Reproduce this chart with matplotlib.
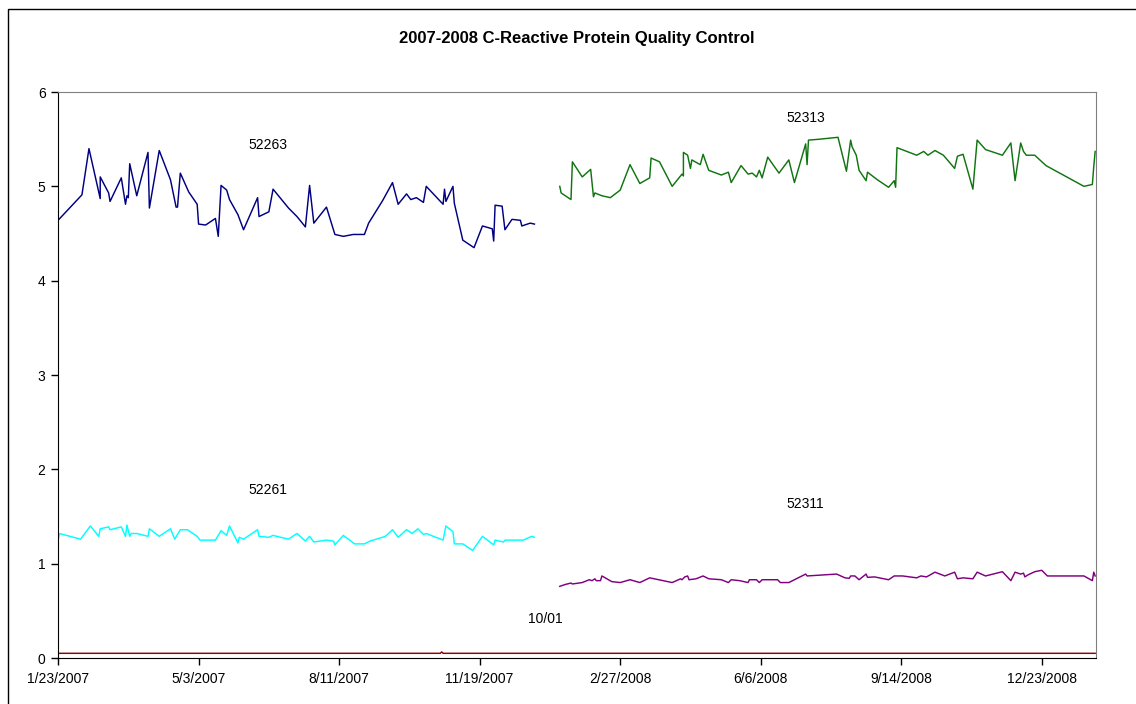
import pandas as pd
import numpy as np
import matplotlib
matplotlib.use('Agg')
import matplotlib.pyplot as plt
from matplotlib.patches import Rectangle

plt.rcParams['font.family'] = ['Liberation Sans', 'DejaVu Sans']

# ------------------- data (days after 1/23/2007, CRP value) -------------------
start = pd.Timestamp('2007-01-23')

days_52263 = [0, 17, 22, 30, 30, 36, 37, 45, 48, 49, 50, 51, 56, 64, 65, 72, 80, 84, 85, 87,
              93, 99, 100, 105, 112, 114, 116, 120, 122, 128, 132, 142, 143, 150, 153, 164, 170,
              176, 179, 182, 191, 197, 203, 210, 218, 221, 231, 238, 242, 248, 251, 255, 260,
              262, 274, 275, 276, 281, 282, 288, 296, 302, 309, 310, 311, 316, 318, 323, 329,
              330, 336, 339]
vals_52263 = [4.64, 4.91, 5.40, 4.87, 5.10, 4.93, 4.84, 5.09, 4.81, 4.90, 4.88, 5.24, 4.90, 5.36,
              4.77, 5.38, 5.07, 4.78, 4.78, 5.14, 4.94, 4.81, 4.60, 4.59, 4.66, 4.47, 5.01, 4.96,
              4.86, 4.70, 4.54, 4.88, 4.68, 4.73, 4.97, 4.77, 4.68, 4.57, 5.01, 4.61, 4.78, 4.49,
              4.47, 4.49, 4.49, 4.61, 4.85, 5.04, 4.81, 4.92, 4.86, 4.88, 4.83, 5.00, 4.81, 4.97,
              4.84, 5.00, 4.82, 4.43, 4.35, 4.58, 4.55, 4.42, 4.80, 4.79, 4.54, 4.65, 4.64, 4.58,
              4.61, 4.60]

days_52261 = [0, 1, 16, 23, 29, 30, 36, 37, 45, 48, 49, 51, 52, 56, 64, 65, 72, 80, 83, 87, 92,
              99, 101, 112, 116, 120, 122, 128, 129, 132, 142, 143, 150, 153, 164, 170, 176, 179,
              182, 191, 196, 197, 203, 211, 218, 222, 233, 238, 242, 248, 252, 256, 260, 262,
              274, 276, 281, 282, 288, 295, 302, 310, 311, 317, 318, 331, 337, 339]
vals_52261 = [1.24, 1.32, 1.26, 1.40, 1.29, 1.37, 1.39, 1.36, 1.39, 1.29, 1.41, 1.29, 1.32, 1.32,
              1.29, 1.37, 1.29, 1.37, 1.26, 1.36, 1.36, 1.29, 1.25, 1.25, 1.35, 1.30, 1.40, 1.22,
              1.28, 1.26, 1.36, 1.29, 1.28, 1.30, 1.26, 1.32, 1.24, 1.29, 1.23, 1.25, 1.24, 1.20,
              1.30, 1.21, 1.21, 1.24, 1.29, 1.36, 1.28, 1.36, 1.32, 1.37, 1.31, 1.32, 1.25, 1.40,
              1.34, 1.21, 1.21, 1.14, 1.29, 1.20, 1.25, 1.23, 1.25, 1.25, 1.29, 1.28]

days_52313 = [357, 358, 365, 366, 373, 379, 381, 382, 387, 393, 400, 407, 414, 421, 422, 428, 437,
              444, 445, 445, 448, 450, 451, 457, 459, 463, 472, 477, 479, 486, 491, 494, 497, 499,
              501, 505, 513, 520, 524, 532, 533, 534, 542, 555, 561, 564, 565, 568, 570, 575, 576,
              583, 591, 595, 596, 597, 611, 616, 619, 624, 630, 638, 640, 644, 651, 654, 660, 672,
              678, 681, 685, 687, 689, 695, 703, 730, 736, 737, 738]
vals_52313 = [5.00, 4.93, 4.86, 5.26, 5.10, 5.18, 4.89, 4.93, 4.90, 4.88, 4.96, 5.23, 5.03, 5.09,
              5.30, 5.26, 5.00, 5.13, 5.11, 5.36, 5.33, 5.19, 5.28, 5.23, 5.34, 5.17, 5.12, 5.15,
              5.04, 5.22, 5.13, 5.14, 5.10, 5.17, 5.09, 5.31, 5.14, 5.28, 5.04, 5.45, 5.23, 5.49,
              5.50, 5.52, 5.16, 5.49, 5.42, 5.33, 5.17, 5.06, 5.15, 5.07, 4.99, 5.06, 4.99, 5.41,
              5.33, 5.37, 5.33, 5.38, 5.33, 5.19, 5.32, 5.34, 4.97, 5.49, 5.39, 5.33, 5.46, 5.06,
              5.46, 5.37, 5.33, 5.33, 5.22, 5.00, 5.02, 5.21, 5.37]

days_52311 = [357, 361, 365, 366, 373, 378, 380, 382, 383, 386, 387, 394, 400, 407, 414, 421, 437,
              443, 444, 446, 448, 449, 454, 459, 463, 472, 477, 479, 485, 491, 492, 497, 499, 501,
              512, 514, 520, 526, 532, 533, 554, 560, 563, 564, 567, 570, 575, 576, 581, 591, 595,
              601, 611, 614, 618, 624, 631, 638, 640, 644, 651, 654, 660, 672, 678, 681, 685, 687,
              688, 690, 695, 700, 704, 730, 736, 737, 738]
vals_52311 = [0.76, 0.78, 0.795, 0.785, 0.80, 0.83, 0.82, 0.84, 0.82, 0.82, 0.87, 0.81, 0.80, 0.83,
              0.80, 0.85, 0.80, 0.84, 0.83, 0.86, 0.87, 0.83, 0.84, 0.87, 0.84, 0.83, 0.80, 0.83,
              0.82, 0.80, 0.83, 0.83, 0.80, 0.83, 0.83, 0.80, 0.80, 0.845, 0.89, 0.87, 0.89, 0.85,
              0.845, 0.87, 0.87, 0.83, 0.89, 0.855, 0.86, 0.83, 0.87, 0.87, 0.85, 0.87, 0.86, 0.91,
              0.87, 0.91, 0.84, 0.85, 0.84, 0.91, 0.87, 0.915, 0.82, 0.91, 0.89, 0.90, 0.86, 0.88,
              0.915, 0.93, 0.87, 0.87, 0.82, 0.91, 0.87]

days_base = [0, 272, 273, 274, 738]
vals_base = [0.05, 0.05, 0.065, 0.05, 0.05]


def to_dates(d):
    return start + pd.to_timedelta(d, unit='D')


# ------------------- figure -------------------
fig = plt.figure(figsize=(11.36, 7.04), dpi=100)
ax = fig.add_axes([0.0511, 0.0653, 0.9137, 0.804])

ax.plot(to_dates(days_52263), vals_52263, c='#000080', lw=1.05)
ax.plot(to_dates(days_52261), vals_52261, c='#00FFFF', lw=1.05)
ax.plot(to_dates(days_52313), vals_52313, c='#107510', lw=1.05)
ax.plot(to_dates(days_52311), vals_52311, c='#800080', lw=1.05)
ax.plot(to_dates(days_base), vals_base, c='#900000', lw=1.05)

ax.set_ylim(0, 6)
ax.set_yticks(np.arange(0, 7, 1))
ax.set_xlim(to_dates(0), to_dates(738.6))
xt = to_dates(np.arange(0, 701, 100))
ax.set_xticks(xt)
ax.set_xticklabels([f'{d.month}/{d.day}/{d.year}' for d in xt])

ax.tick_params(axis='both', labelsize=10, length=5, width=1, color='k')
ax.tick_params(axis='x', pad=5)
ax.tick_params(axis='y', pad=4)
for s in ['left', 'bottom']:
    ax.spines[s].set_color('k')
for s in ['top', 'right']:
    ax.spines[s].set_color('#808080')

# ------------------- labels -------------------
ax.text(to_dates(149), 5.44, '52263', ha='center', va='center', fontsize=10)
ax.text(to_dates(532), 5.72, '52313', ha='center', va='center', fontsize=10)
ax.text(to_dates(149), 1.78, '52261', ha='center', va='center', fontsize=10)
ax.text(to_dates(532), 1.63, '52311', ha='center', va='center', fontsize=10)
ax.text(to_dates(346.5), 0.41, '10/01', ha='center', va='center', fontsize=10)

fig.text(577 / 1136, 1 - 38 / 704, '2007-2008 C-Reactive Protein Quality Control',
         ha='center', va='center', fontsize=12, fontweight='bold')

# chart area border (left and top edges visible)
fig.patches.append(Rectangle((8 / 1136, -0.1), 1.2, 1.1 - 9 / 704, transform=fig.transFigure,
                             fill=False, ec='k', lw=1.0))

fig.savefig('out.png', dpi=100)
